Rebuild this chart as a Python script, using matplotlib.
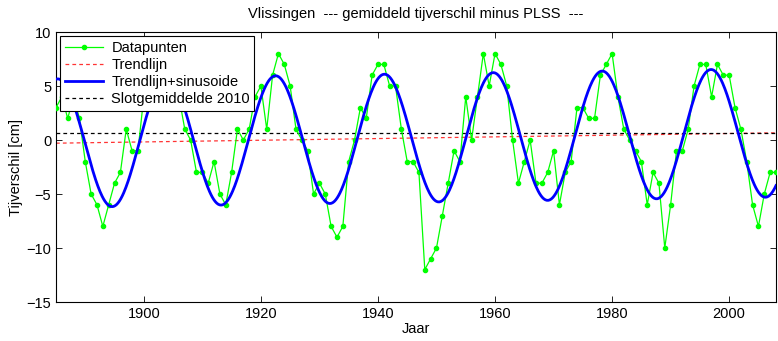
import numpy as np
import matplotlib
matplotlib.use("Agg")
import matplotlib.pyplot as plt

plt.rcParams['font.family'] = ['Liberation Sans', 'DejaVu Sans']

# Yearly mean tidal range difference at Vlissingen (cm)
years = list(range(1885, 2009))
values = [
    3, 4, 2, 4, 2, -2, -5, -6, -8, -6,          # 1885-1894
    -4, -3, 1, -1, -1, 4, 6, 7, 6, 7,           # 1895-1904
    5, 4, 1, 0, -3, -3, -4, -2, -5, -6,         # 1905-1914
    -3, 1, 0, 1, 4, 5, 1, 6, 8, 7,              # 1915-1924
    5, 1, 0, -1, -5, -4, -5, -8, -9, -8,        # 1925-1934
    -2, 0, 3, 2, 6, 7, 7, 5, 5, 1,              # 1935-1944
    -2, -2, -3, -12, -11, -10, -7, -4, -1, -2,  # 1945-1954
    4, 0, 4, 8, 5, 8, 7, 5, 0, -4,              # 1955-1964
    -2, 0, -4, -4, -3, -1, -6, -3, -2, 3,       # 1965-1974
    3, 2, 2, 6, 7, 8, 4, 1, 0, -1,              # 1975-1984
    -2, -6, -3, -4, -10, -6, -1, -1, 1, 5,      # 1985-1994
    7, 7, 4, 7, 6, 6, 3, 1, -2, -6,             # 1995-2004
    -8, -5, -3, -3,                             # 2005-2008
]

# Linear trend (value at 2010 and slope per year)
trend_2010 = 0.68
trend_slope = 0.0078
# Nodal (18.6 yr) sinusoid on top of the trend
nodal_amplitude = 5.95
nodal_period = 18.6
nodal_peak_year = 1903.9

t = np.array(years, dtype=float)
tt = np.linspace(t[0], t[-1], 1000)
trend = trend_2010 + trend_slope * (tt - 2010)
fit = trend + nodal_amplitude * np.cos(2 * np.pi * (tt - nodal_peak_year) / nodal_period)

fig = plt.figure(figsize=(7.78, 3.41), dpi=100)
ax = fig.add_axes([56 / 778, 1 - 302 / 341, 720 / 778, 270 / 341])

ax.plot(years, values, '-', color=(0, 1, 0), lw=0.9, marker='.', markersize=6,
        label='Datapunten', zorder=3)
ax.plot(tt, trend, '--', color=(1, 0.2, 0.2), lw=0.9, dashes=(3, 2.5),
        label='Trendlijn', zorder=2)
ax.plot(tt, fit, '-', color=(0, 0, 1), lw=2.0, label='Trendlijn+sinusoide', zorder=4)
ax.axhline(trend_2010, color='k', ls='--', lw=0.9, dashes=(3, 2.5),
           label='Slotgemiddelde 2010', zorder=2)

ax.set_xlim(1885, 2008)
ax.set_ylim(-15, 10)
ax.set_xticks([1900, 1920, 1940, 1960, 1980, 2000])
ax.set_yticks([-15, -10, -5, 0, 5, 10])
ax.tick_params(direction='in', top=True, right=True, labelsize=10.5, length=4, width=0.6)
for s in ax.spines.values():
    s.set_linewidth(0.8)

ax.set_title('Vlissingen  --- gemiddeld tijverschil minus PLSS  ---', fontsize=10.5, pad=10)
ax.set_xlabel('Jaar', fontsize=10.5, labelpad=1)
ax.set_ylabel('Tijverschil [cm]', fontsize=10.5, labelpad=2)

leg = ax.legend(loc='upper left', fontsize=10.5, fancybox=False, framealpha=1,
                edgecolor='k', borderpad=0.3, labelspacing=0.22, handlelength=2.6,
                handletextpad=0.6, borderaxespad=0.3)
leg.get_frame().set_linewidth(0.8)

fig.savefig('out.png', dpi=100)
